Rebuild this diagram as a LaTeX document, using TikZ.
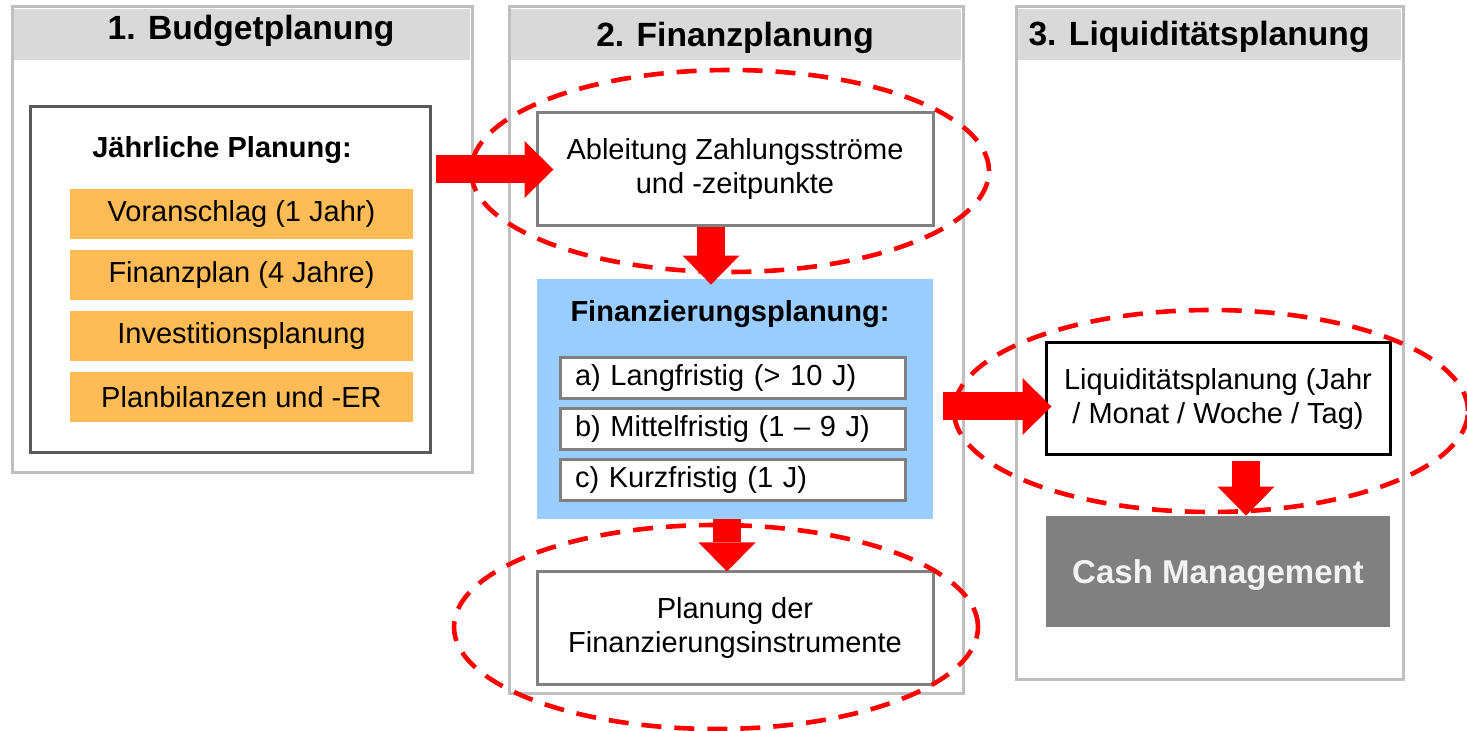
\documentclass[tikz,border=0pt]{standalone}
\usepackage{fontspec}
\setmainfont{Liberation Sans}
\usetikzlibrary{arrows.meta}
\definecolor{panelgray}{HTML}{BFBFBF}
\definecolor{headgray}{HTML}{D9D9D9}
\definecolor{innergray}{HTML}{595959}
\definecolor{boxgray}{HTML}{808080}
\definecolor{orangefill}{HTML}{FFBB55}
\definecolor{lightblue}{HTML}{99CCFF}
\definecolor{cashgray}{HTML}{808080}
\definecolor{cashtext}{HTML}{F2F2F2}
\definecolor{arrowred}{HTML}{FF0000}
\begin{document}
\begin{tikzpicture}[x=0.5pt,y=-0.5pt,
  panel/.style={draw=panelgray, line width=1.5pt, fill=white, inner sep=0pt},
  header/.style={fill=headgray, inner sep=0pt},
  titletext/.style={font=\fontsize{16.8}{20}\selectfont\bfseries, anchor=base, inner sep=0pt},
  txt/.style={font=\fontsize{14.5}{17}\selectfont},
  boldtxt/.style={font=\fontsize{14.5}{17}\selectfont\bfseries, anchor=base, inner sep=0pt},
  orangebox/.style={txt, fill=orangefill, minimum width=171.5pt, minimum height=25pt, inner sep=0pt},
  graybox/.style={txt, draw=boxgray, line width=1.5pt, fill=white, align=center, inner sep=0pt},
  subbox/.style={txt, draw=boxgray, line width=1.5pt, fill=white, text width=157.5pt, align=left, inner xsep=7.5pt, inner ysep=0pt, minimum height=20.5pt},
  bigarrow/.style={draw=arrowred, line width=14pt, -{Triangle[length=14.5pt,width=28.5pt,line width=0pt]}},
  redell/.style={draw=arrowred, line width=2.3pt, dash pattern=on 10pt off 6.5pt}
]
\useasboundingbox (0,0) rectangle (1467,731);
\fill[white] (0,0) rectangle (1467,731);

% panels
\node[panel, minimum width=230pt, minimum height=233pt] (p1) at (242,240) {};
\node[panel, minimum width=227pt, minimum height=343pt] (p2) at (736,350) {};
\node[panel, minimum width=193.5pt, minimum height=336pt] (p3) at (1209.5,343) {};
\node[header, minimum width=228pt, minimum height=25.5pt] (h1) at (242,34.5) {};
\node[header, minimum width=225pt, minimum height=25.5pt] (h2) at (736,34.5) {};
\node[header, minimum width=191.5pt, minimum height=25.5pt] (h3) at (1209.5,34.5) {};
\node[titletext] (t1) at (251,40) {1. Budgetplanung};
\node[titletext] (t2) at (735,47) {2. Finanzplanung};
\node[titletext] (t3) at (1199,46) {3. Liquiditätsplanung};

% panel 1 content
\node[draw=innergray, line width=1.5pt, fill=white, minimum width=200pt, minimum height=173pt] (jp) at (230,280) {};
\node[boldtxt] (jpt) at (222,158) {Jährliche Planung:};
\node[orangebox] (o1) at (241.5,214) {Voranschlag (1 Jahr)};
\node[orangebox] (o2) at (241.5,275) {Finanzplan (4 Jahre)};
\node[orangebox] (o3) at (241.5,336) {Investitionsplanung};
\node[orangebox] (o4) at (241.5,397) {Planbilanzen und -ER};

% panel 2 content
\node[graybox, minimum width=198pt, minimum height=56.5pt] (abl) at (735,169.5) {Ableitung Zahlungsströme\\und -zeitpunkte};
\node[fill=lightblue, minimum width=198pt, minimum height=120pt, inner sep=0pt] (fin) at (735,399) {};
\node[boldtxt] (fint) at (730,322) {Finanzierungsplanung:};
\node[subbox] (sa) at (732.5,378.5) {a) Langfristig (> 10 J)};
\node[subbox] (sb) at (732.5,429.5) {b) Mittelfristig (1 – 9 J)};
\node[subbox] (sc) at (732.5,480.5) {c) Kurzfristig (1 J)};
\node[graybox, minimum width=198pt, minimum height=56pt] (pl) at (735,628) {Planung der\\Finanzierungsinstrumente};

% panel 3 content
\node[txt, draw=black, line width=1.5pt, fill=white, align=center, inner sep=0pt, minimum width=172pt, minimum height=56pt] (liq) at (1218,399) {Liquiditätsplanung (Jahr\\/ Monat / Woche / Tag)};
\node[fill=cashgray, text=cashtext, font=\fontsize{16.5}{20}\selectfont\bfseries, inner sep=0pt, text depth=0pt, minimum width=172pt, minimum height=55.5pt] (cash) at (1218,571.5) {Cash Management};

% arrows
\draw[bigarrow] ([xshift=2pt]jp.east |- abl.west) -- ([xshift=9pt]abl.west);
\draw[bigarrow] ([xshift=-12pt]abl.south) -- ([xshift=-12pt,yshift=-3pt]fin.north);
\draw[bigarrow] ([xshift=-4pt]fin.south) -- ([xshift=-4pt,yshift=-0.5pt]pl.north);
\draw[bigarrow] ([xshift=5pt,yshift=-3.75pt]fin.east |- liq.west) -- ([xshift=3.5pt,yshift=-3.75pt]liq.west);
\draw[bigarrow] ([xshift=14pt,yshift=-2.5pt]liq.south) -- ([xshift=14pt]cash.north);

% dashed ellipses
\draw[redell] (730,171) ellipse [x radius=129.5pt, y radius=50.5pt];
\draw[redell] (716,627) ellipse [x radius=131pt, y radius=51pt];
\draw[redell] (1211,411) ellipse [x radius=128.5pt, y radius=50.5pt];
\end{tikzpicture}
\end{document}
